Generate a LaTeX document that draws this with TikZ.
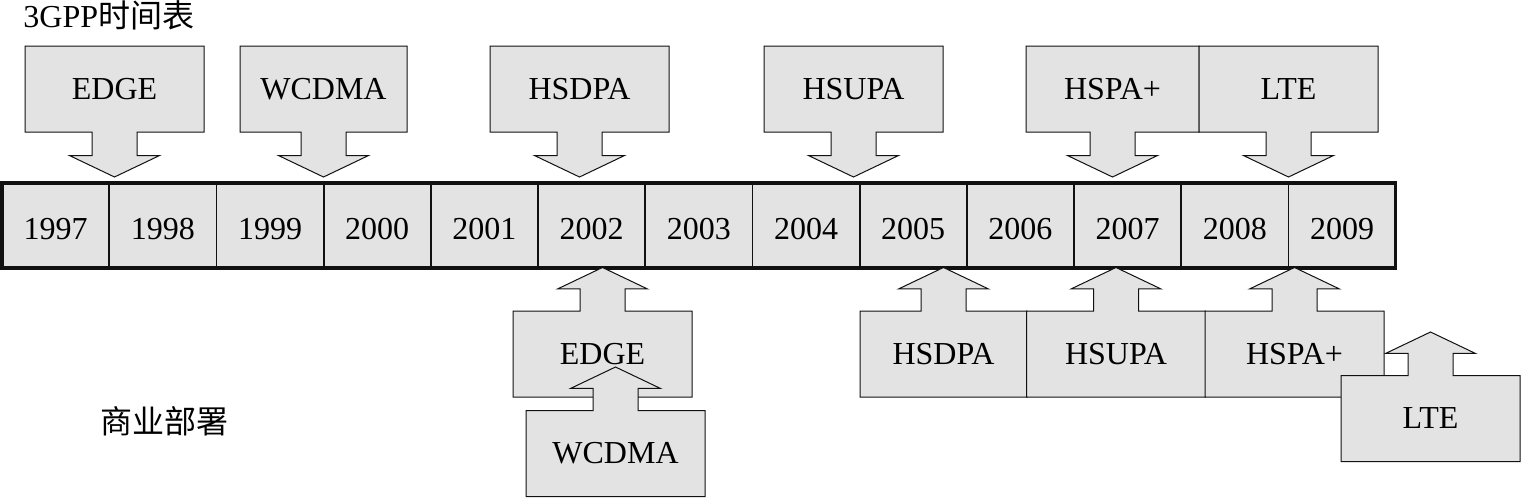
\documentclass[tikz,border=0pt]{standalone}
\usepackage{fontspec}
\setmainfont{Liberation Serif}
\newfontfamily\cjk{Noto Sans CJK SC}
\usepackage{tikz}
\usetikzlibrary{positioning,shapes.arrows}
\usepackage{xcolor}
\definecolor{boxgray}{HTML}{E3E3E3}
\definecolor{ink}{HTML}{111111}

\begin{document}
\begin{tikzpicture}[
  x=0.5pt, y=-0.5pt, node distance=0pt,
  yr/.style={draw=ink, line width=0.9pt, fill=boxgray, minimum width=53.6pt, minimum height=42.5pt, inner sep=0pt, outer sep=0pt, text height=14pt, text depth=0pt, font=\fontsize{16}{19}\selectfont},
  cb/.style={shape=arrow box, draw=ink, line width=0.5pt, fill=boxgray, minimum width=89.5pt, minimum height=43pt, inner sep=0pt, font=\fontsize{16}{19}\selectfont,
    arrow box shaft width=22.5pt, arrow box head extend=11.25pt, arrow box tip angle=129,
    arrow box north arrow=-1pt, arrow box east arrow=-1pt, arrow box west arrow=-1pt, arrow box south arrow=-1pt},
  dn/.style={cb, arrow box south arrow=22.25pt},
  up/.style={cb, arrow box north arrow=21.5pt}
]
\useasboundingbox (0,0) rectangle (1521,499);
\node[anchor=base west, inner sep=0pt, font=\fontsize{16}{19}\selectfont] (title) at (23,27) {3GPP{\cjk 时间表}};
% time line
\node[yr] (y97) at (55.6,225.5) {1997};
\node[yr, right=of y97] (y98) {1998};
\node[yr, right=of y98] (y99) {1999};
\node[yr, right=of y99] (y00) {2000};
\node[yr, right=of y00] (y01) {2001};
\node[yr, right=of y01] (y02) {2002};
\node[yr, right=of y02] (y03) {2003};
\node[yr, right=of y03] (y04) {2004};
\node[yr, right=of y04] (y05) {2005};
\node[yr, right=of y05] (y06) {2006};
\node[yr, right=of y06] (y07) {2007};
\node[yr, right=of y07] (y08) {2008};
\node[yr, right=of y08] (y09) {2009};
\draw[ink, line width=1.6pt] (y97.north west) rectangle (y09.south east);
% 3GPP releases
\node[dn] (specedge) at (114.5,89) {EDGE};
\node[dn, minimum width=83.5pt] (specwcdma) at (323.5,89) {WCDMA};
\node[dn] (spechsdpa) at (579.5,89) {HSDPA};
\node[dn] (spechsupa) at (853.5,89) {HSUPA};
\node[dn, minimum width=86.5pt] (spechspa) at (1112.5,89) {HSPA+};
\node[dn] (speclte) at (1288.5,89) {LTE};
% commercial deployment
\node[font=\fontsize{16}{19}\selectfont] (deploy) at (164.5,421.5) {\cjk 商业部署};
\node[up] (depedge) at (602.5,354) {EDGE};
\node[up] (depwcdma) at (615.5,453.5) {WCDMA};
\node[up, minimum width=83.5pt] (dephsdpa) at (943.5,354) {HSDPA};
\node[up] (dephsupa) at (1116,354) {HSUPA};
\node[up] (dephspa) at (1294.5,354) {HSPA+};
\node[up] (deplte) at (1430.5,418.5) {LTE};
\end{tikzpicture}
\end{document}
